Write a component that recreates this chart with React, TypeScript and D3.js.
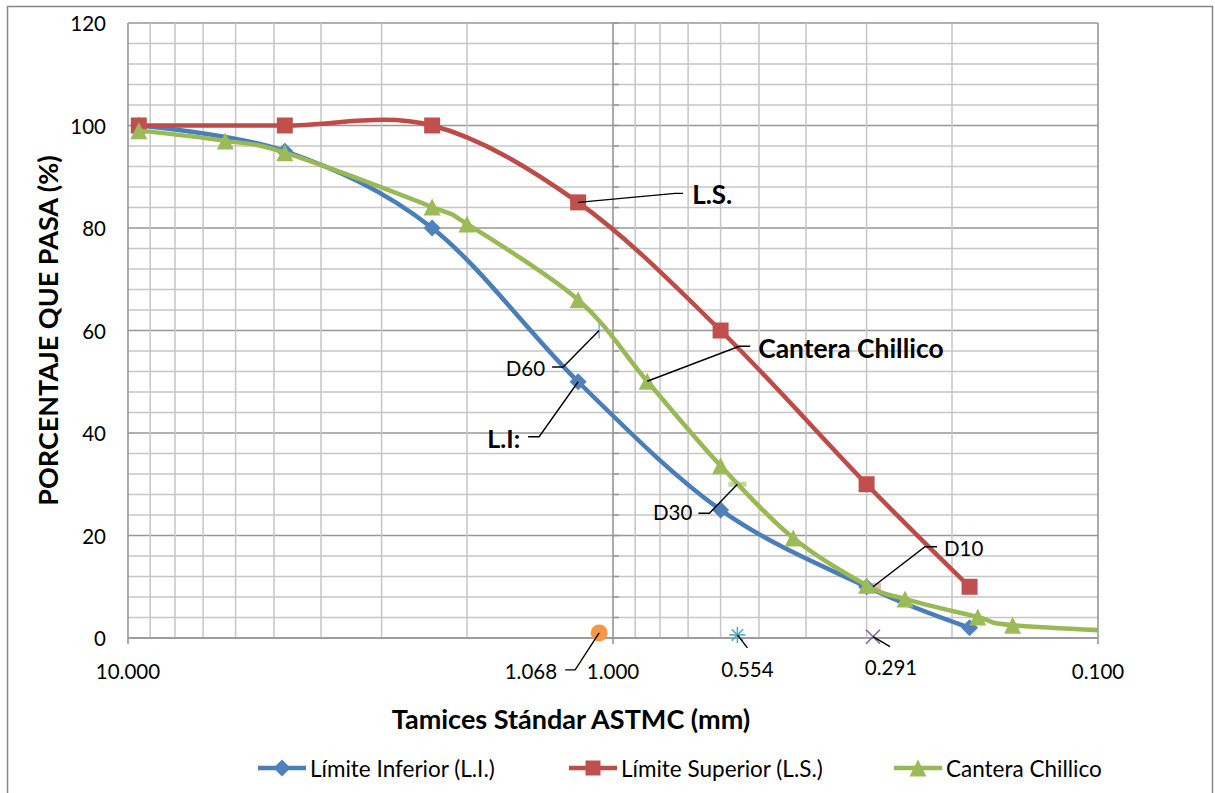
import React from 'react';
import * as d3 from 'd3';

// tamices (mm) y porcentajes que pasan
const sievesLimits = [9.5, 4.75, 2.36, 1.18, 0.6, 0.3, 0.184];
const limiteInferior = [100, 95, 80, 50, 25, 10, 2];
const limiteSuperior = [100, 100, 100, 85, 60, 30, 10];
const sievesCantera = [9.5, 6.3, 4.75, 2.36, 2.0, 1.18, 0.85, 0.6, 0.425, 0.3, 0.25, 0.177, 0.15, 0.075];
const canteraChillico = [99.0, 97.0, 94.7, 84.1, 80.8, 66.0, 50.1, 33.6, 19.5, 10.3, 7.6, 4.1, 2.5, 1.0];

const yTicks = [0, 20, 40, 60, 80, 100, 120];
const xTicks = [10, 1, 0.1];
const xTickLabels = ['10.000', '1.000', '0.100'];

// diámetros efectivos D60, D30, D10
const dNames = ['D60', 'D30', 'D10'];
const dSizes = [1.068, 0.554, 0.291];
const dPercent = [60, 30, 10];
const dBaseValues = [1.0, 0.6, 0.25];
const dSizeLabels = ['1.068', '0.554', '0.291'];

const seriesNames = ['Límite Inferior (L.I.)', 'Límite Superior (L.S.)', 'Cantera Chillico'];

const W = 1215;
const H = 793;
const plot = { left: 128, right: 1098, top: 23, bottom: 638 };
const font = "Lato, 'Open Sans', sans-serif";

const colors = {
  blue: '#4A7EBB',
  blueFill: '#4F81BD',
  red: '#BE4B48',
  redFill: '#C0504D',
  green: '#98B954',
  greenFill: '#9BBB59',
  gridMinor: '#C6C6C6',
  gridMajor: '#979797',
};

const x = d3.scaleLog().domain([10, 0.1]).range([plot.left, plot.right]);
const y = d3.scaleLinear().domain([0, 120]).range([plot.bottom, plot.top]);

const line = d3
  .line<[number, number]>()
  .x(d => x(d[0]))
  .y(d => y(d[1]))
  .curve(d3.curveCardinal.tension(0));

const zip = (a: number[], b: number[]) => a.map((v, i) => [v, b[i]] as [number, number]);

const Diamond = ({ cx, cy, s, fill }: any) => (
  <path d={`M${cx},${cy - s / 2}L${cx + s / 2},${cy}L${cx},${cy + s / 2}L${cx - s / 2},${cy}Z`} fill={fill} />
);
const Square = ({ cx, cy, s, fill }: any) => <rect x={cx - s / 2} y={cy - s / 2} width={s} height={s} fill={fill} />;
const Triangle = ({ cx, cy, s, fill }: any) => (
  <path d={`M${cx},${cy - s / 2}L${cx + s / 2},${cy + s / 2}L${cx - s / 2},${cy + s / 2}Z`} fill={fill} />
);

// etiquetas con línea guía: desplazamientos en px desde el punto
const Callout = ({ px, py, elbow, hend, tx, ty, anchor, text, bold, size }: any) => {
  const pts: [number, number][] = [[px, py], [px + elbow[0], py + elbow[1]]];
  if (hend !== null) pts.push([px + hend, py + elbow[1]]);
  return (
    <g>
      <path d={d3.line()(pts) || ''} fill="none" stroke="#000" strokeWidth={1.4} />
      <text
        x={px + tx}
        y={py + ty}
        textAnchor={anchor}
        dominantBaseline="central"
        fontFamily={font}
        fontWeight={bold ? 700 : 400}
        fontSize={size}
        fill="#000"
      >
        {text}
      </text>
    </g>
  );
};

export default function App() {
  const minorX: number[] = [];
  [0.1, 1].forEach(d => {
    for (let k = 2; k <= 9; k++) minorX.push(d * k);
  });
  const hLines = d3.range(0, 121, 4);

  const blueData = zip(sievesLimits, limiteInferior);
  const redData = zip(sievesLimits, limiteSuperior);
  const greenData = zip(sievesCantera, canteraChillico);

  const markerS = 17;
  const axisX1 = x(1);

  return (
    <svg width={W} height={H} style={{ position: 'absolute', left: 0, top: 0, background: '#fff' }}>
      <defs>
        <clipPath id="plotClip">
          <rect x={plot.left} y={plot.top - 12} width={plot.right - plot.left} height={plot.bottom - plot.top + 24} />
        </clipPath>
      </defs>
      <rect x={7.5} y={6.5} width={1205} height={790} fill="#fff" stroke="#888" strokeWidth={1.5} />

      {/* cuadrícula horizontal */}
      {hLines.map(v => (
        <line
          key={`h${v}`}
          x1={plot.left}
          x2={plot.right}
          y1={y(v)}
          y2={y(v)}
          stroke={v % 20 === 0 ? colors.gridMajor : colors.gridMinor}
          strokeWidth={1.5}
        />
      ))}
      {/* cuadrícula vertical */}
      {minorX.map(v => (
        <line key={`v${v}`} x1={x(v)} x2={x(v)} y1={plot.top} y2={plot.bottom} stroke={colors.gridMinor} strokeWidth={1.5} />
      ))}
      {xTicks.map(v => (
        <line key={`vm${v}`} x1={x(v)} x2={x(v)} y1={plot.top} y2={plot.bottom + 6} stroke={colors.gridMajor} strokeWidth={1.6} />
      ))}
      {/* marcas menores sobre el eje en 1.000 */}
      {hLines.map(v => (
        <line key={`t${v}`} x1={axisX1} x2={axisX1 + 6} y1={y(v)} y2={y(v)} stroke={colors.gridMajor} strokeWidth={1.5} />
      ))}
      <line x1={plot.left} x2={plot.right} y1={y(0)} y2={y(0)} stroke={colors.gridMajor} strokeWidth={1.6} />

      {/* etiquetas de ejes */}
      {yTicks.map(t => (
        <text key={`yt${t}`} x={106} y={y(t)} textAnchor="end" dominantBaseline="central" fontFamily={font} fontSize={20.5} fill="#000">
          {t}
        </text>
      ))}
      {xTicks.map((t, i) => (
        <text key={`xt${t}`} x={x(t)} y={671} textAnchor="middle" dominantBaseline="central" fontFamily={font} fontSize={20.5} fill="#000">
          {xTickLabels[i]}
        </text>
      ))}
      <text
        transform={`translate(47,${(plot.top + plot.bottom) / 2}) rotate(-90)`}
        textAnchor="middle"
        dominantBaseline="central"
        fontFamily={font}
        fontWeight={700}
        fontSize={27}
        fill="#000"
      >
        PORCENTAJE QUE PASA (%)
      </text>
      <text x={571} y={718} textAnchor="middle" dominantBaseline="central" fontFamily={font} fontWeight={700} fontSize={27} fill="#000">
        Tamices Stándar ASTMC (mm)
      </text>

      {/* marcadores de D60, D30, D10 sobre las curvas */}
      <g>
        <path
          d={`M${x(dSizes[0]) - 8},${y(dPercent[0])}H${x(dSizes[0]) + 8}M${x(dSizes[0])},${y(dPercent[0]) - 8}V${y(dPercent[0]) + 8}`}
          stroke="#95B3D7"
          strokeWidth={1.6}
        />
        <rect x={x(dSizes[1]) - 9} y={y(dPercent[1]) - 2.5} width={18} height={5} fill="#C3D69B" />
        <rect x={x(dSizes[2]) - 1} y={y(dPercent[2]) - 4} width={9} height={8} fill="#E6B9B8" />
      </g>

      {/* series */}
      <g clipPath="url(#plotClip)">
        <path d={line(blueData) || ''} fill="none" stroke={colors.blue} strokeWidth={4.5} />
        {blueData.map((d, i) => (
          <Diamond key={`b${i}`} cx={x(d[0])} cy={y(d[1])} s={markerS} fill={colors.blueFill} />
        ))}
        <path d={line(redData) || ''} fill="none" stroke={colors.red} strokeWidth={4.5} />
        {redData.map((d, i) => (
          <Square key={`r${i}`} cx={x(d[0])} cy={y(d[1])} s={16} fill={colors.redFill} />
        ))}
        <path d={line(greenData) || ''} fill="none" stroke={colors.green} strokeWidth={4.5} />
        {greenData.map((d, i) => (
          <Triangle key={`g${i}`} cx={x(d[0])} cy={y(d[1])} s={markerS} fill={colors.greenFill} />
        ))}
      </g>

      {/* marcadores sobre el eje x */}
      <circle cx={x(dSizes[0])} cy={y(dBaseValues[0])} r={8.5} fill="#F79646" />
      <g stroke="#4BACC6" strokeWidth={1.6}>
        {[0, 45, 90, 135].map(a => {
          const cx = x(dSizes[1]);
          const cy = y(dBaseValues[1]);
          const r = 8;
          const rad = (a * Math.PI) / 180;
          return <line key={a} x1={cx - r * Math.cos(rad)} y1={cy - r * Math.sin(rad)} x2={cx + r * Math.cos(rad)} y2={cy + r * Math.sin(rad)} />;
        })}
      </g>
      <path
        d={`M${x(dSizes[2]) - 7},${y(dBaseValues[2]) - 7}L${x(dSizes[2]) + 7},${y(dBaseValues[2]) + 7}M${x(dSizes[2]) - 7},${y(dBaseValues[2]) + 7}L${x(dSizes[2]) + 7},${y(dBaseValues[2]) - 7}`}
        stroke="#8064A2"
        strokeWidth={1.6}
      />

      {/* etiquetas */}
      <Callout px={x(1.18)} py={y(85)} elbow={[97, -9]} hend={105} tx={114} ty={-8} anchor="start" text="L.S." bold size={26} />
      <Callout px={x(sievesCantera[6])} py={y(canteraChillico[6])} elbow={[92, -35]} hend={103} tx={111} ty={-33} anchor="start" text={seriesNames[2]} bold size={26.4} />
      <Callout px={x(1.18)} py={y(50)} elbow={[-39, 55]} hend={-50} tx={-58} ty={56} anchor="end" text="L.I:" bold size={25} />
      <Callout px={x(dSizes[0])} py={y(dPercent[0])} elbow={[-36, 36.5]} hend={-47} tx={-54} ty={37.5} anchor="end" text={dNames[0]} size={20.5} />
      <Callout px={x(dSizes[1])} py={y(dPercent[1])} elbow={[-28, 29]} hend={-39} tx={-45} ty={28} anchor="end" text={dNames[1]} size={20.5} />
      <Callout px={x(dSizes[2])} py={y(dPercent[2])} elbow={[52, -40]} hend={64} tx={71} ty={-39} anchor="start" text={dNames[2]} size={20.5} />
      <Callout px={x(dSizes[0])} py={y(dBaseValues[0])} elbow={[-24, 37]} hend={-34} tx={-42} ty={38} anchor="end" text={dSizeLabels[0]} size={20.5} />
      <Callout px={x(dSizes[1])} py={y(dBaseValues[1])} elbow={[10, 13]} hend={null} tx={10} ty={34} anchor="middle" text={dSizeLabels[1]} size={20.5} />
      <Callout px={x(dSizes[2])} py={y(dBaseValues[2])} elbow={[17, 10]} hend={null} tx={18} ty={30} anchor="middle" text={dSizeLabels[2]} size={20.5} />

      {/* leyenda */}
      {[
        { x0: 258, c: colors.blue, f: colors.blueFill, m: 'd' },
        { x0: 569, c: colors.red, f: colors.redFill, m: 's' },
        { x0: 894, c: colors.green, f: colors.greenFill, m: 't' },
      ].map((l, i) => (
        <g key={`lg${i}`}>
          <line x1={l.x0} x2={l.x0 + 48} y1={768} y2={768} stroke={l.c} strokeWidth={4.5} />
          {l.m === 'd' && <Diamond cx={l.x0 + 24} cy={768} s={markerS} fill={l.f} />}
          {l.m === 's' && <Square cx={l.x0 + 24} cy={768} s={15} fill={l.f} />}
          {l.m === 't' && <Triangle cx={l.x0 + 24} cy={768} s={markerS} fill={l.f} />}
          <text x={l.x0 + 52} y={768} dominantBaseline="central" fontFamily={font} fontSize={22.5} fill="#000">
            {seriesNames[i]}
          </text>
        </g>
      ))}
    </svg>
  );
}
